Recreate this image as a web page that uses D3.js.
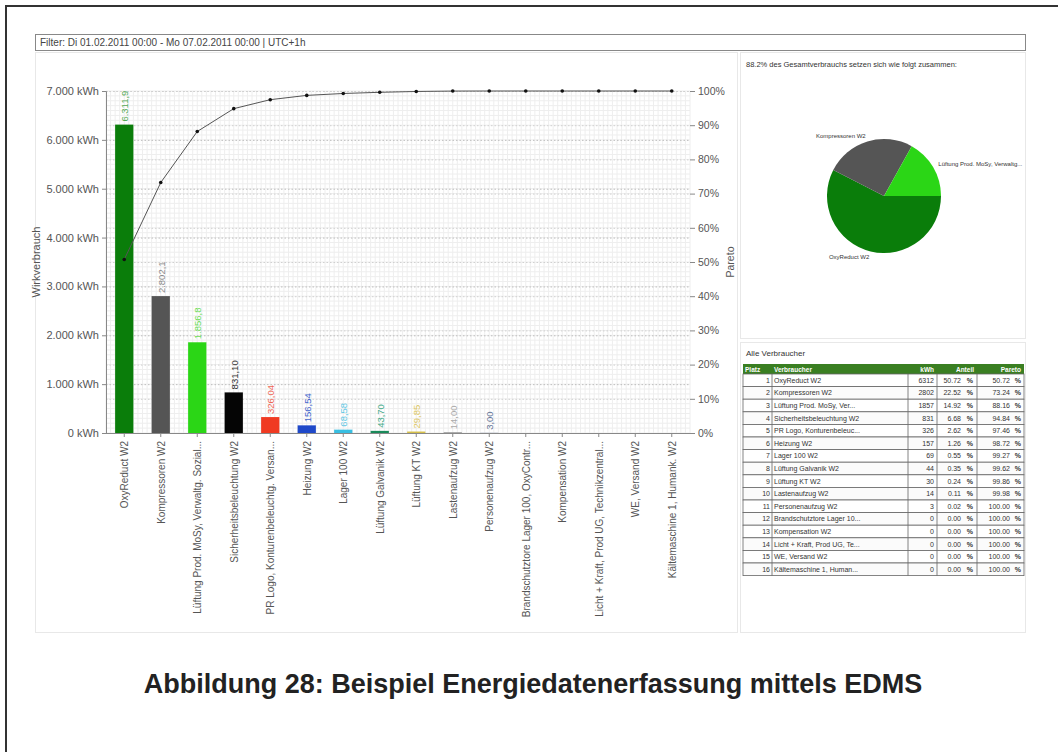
<!DOCTYPE html>
<html>
<head>
<meta charset="utf-8">
<script src="https://cdn.jsdelivr.net/npm/d3@7"></script>
<style>
  body { margin: 0; background: #fff; }
  svg { display: block; font-family: "Liberation Sans", Arial, sans-serif; }
</style>
</head>
<body>
<svg id="chart" width="1058" height="752"></svg>
<script>
// Verbraucher (x axis labels)
var names = ["OxyReduct W2", "Kompressoren W2", "Lüftung Prod. MoSy, Verwaltg. Sozial...",
  "Sicherheitsbeleuchtung W2", "PR Logo, Konturenbeleuchtg. Versan...", "Heizung W2",
  "Lager 100 W2", "Lüftung Galvanik W2", "Lüftung KT W2", "Lastenaufzug W2",
  "Personenaufzug W2", "Brandschutztore Lager 100, OxyContr...", "Kompensation W2",
  "Licht + Kraft, Prod UG, Technikzentral...", "WE, Versand W2", "Kältemaschine 1, Humank. W2"];

// Wirkverbrauch in kWh
var values = [6311.9, 2802.1, 1856.8, 831.10, 326.04, 156.54, 68.58, 43.70, 29.85, 14.00, 3.00, 0, 0, 0, 0, 0];

// Pareto (kumuliert, %)
var pareto = [50.72, 73.24, 88.16, 94.84, 97.46, 98.72, 99.27, 99.62, 99.86, 99.98, 100, 100, 100, 100, 100, 100];

// Anteil (%)
var shares = [50.72, 22.52, 14.92, 6.68, 2.62, 1.26, 0.55, 0.35, 0.24, 0.11, 0.02, 0, 0, 0, 0, 0];

// table columns
var tableNames = ["OxyReduct W2", "Kompressoren W2", "Lüftung Prod. MoSy, Ver...", "Sicherheitsbeleuchtung W2",
  "PR Logo, Konturenbeleuc...", "Heizung W2", "Lager 100 W2", "Lüftung Galvanik W2", "Lüftung KT W2",
  "Lastenaufzug W2", "Personenaufzug W2", "Brandschutztore Lager 10...", "Kompensation W2",
  "Licht + Kraft, Prod UG, Te...", "WE, Versand W2", "Kältemaschine 1, Human..."];
var tableKwh = [6312, 2802, 1857, 831, 326, 157, 69, 44, 30, 14, 3, 0, 0, 0, 0, 0];
var tableHeader = ["Platz", "Verbraucher", "kWh", "Anteil", "Pareto"];

// pie (top 3)
var pieNames = ["OxyReduct W2", "Kompressoren W2", "Lüftung Prod. MoSy, Verwaltg..."];
var pieValues = [6311.9, 2802.1, 1856.8];

// ticks
var kwhTicks = [0, 1000, 2000, 3000, 4000, 5000, 6000, 7000];
var pctTicks = [0, 10, 20, 30, 40, 50, 60, 70, 80, 90, 100];

// colours
var barColors = ["#0a7d0a", "#555555", "#2bd616", "#050505", "#f03a22", "#1f49c9",
  "#38bfe2", "#1a8a5a", "#d6c04a", "#8c8c8c", "#5c6a8c", "#777", "#777", "#777", "#777", "#777"];
var labelColors = ["#55aa55", "#8a8a8a", "#6cdc58", "#333333", "#ee6655", "#4466cc",
  "#66c8e4", "#44aa88", "#ddc766", "#aaaaaa", "#667799", "#999", "#999", "#999", "#999", "#999"];

var de = d3.formatLocale({ decimal: ",", thousands: ".", grouping: [3], currency: ["", " €"] });
var FONT = "Liberation Sans, Arial, sans-serif";

var svg = d3.select("#chart");

// outer frame
svg.append("rect").attr("x", 6).attr("y", 6).attr("width", 1070).attr("height", 770)
  .attr("fill", "none").attr("stroke", "#333").attr("stroke-width", 2);

// filter box
svg.append("rect").attr("x", 35.5).attr("y", 34.5).attr("width", 990).attr("height", 16)
  .attr("fill", "#fff").attr("stroke", "#888");
svg.append("text").attr("x", 40).attr("y", 46).attr("font-size", 10).attr("fill", "#444")
  .text("Filter: Di 01.02.2011 00:00 - Mo 07.02.2011 00:00 | UTC+1h");

// panels
svg.append("rect").attr("x", 35.5).attr("y", 52.5).attr("width", 702).attr("height", 580)
  .attr("fill", "#fff").attr("stroke", "#e8e8e8");
svg.append("rect").attr("x", 740.5).attr("y", 52.5).attr("width", 285).attr("height", 286)
  .attr("fill", "#fff").attr("stroke", "#e8e8e8");
svg.append("rect").attr("x", 740.5).attr("y", 342.5).attr("width", 285).attr("height", 290)
  .attr("fill", "#fff").attr("stroke", "#e8e8e8");

// ---------- Pareto chart ----------
var plotLeft = 106, plotRight = 690, plotTop = 91, plotBottom = 433;

var x = d3.scaleBand().domain(names).range([plotLeft, plotRight]).paddingInner(0.5).paddingOuter(0.25);
var y = d3.scaleLinear().domain([0, 7000]).range([plotBottom, plotTop]);
var yP = d3.scaleLinear().domain([0, 100]).range([plotBottom, plotTop]);

var grid = svg.append("g");
// fine grid
grid.selectAll("line.hmin").data(d3.range(0, 7001, 100)).enter().append("line")
  .attr("x1", plotLeft).attr("x2", plotRight)
  .attr("y1", function(d) { return y(d); }).attr("y2", function(d) { return y(d); })
  .attr("stroke", "#eeeeee").attr("stroke-width", 1);
var fine = d3.scaleLinear().domain([0, 128]).range([plotLeft, plotRight]);
grid.selectAll("line.vmin").data(d3.range(0, 129)).enter().append("line")
  .attr("x1", function(d) { return fine(d); }).attr("x2", function(d) { return fine(d); })
  .attr("y1", plotTop).attr("y2", plotBottom)
  .attr("stroke", "#eeeeee").attr("stroke-width", 1);
// dotted main grid
grid.selectAll("line.hk").data(kwhTicks.slice(1)).enter().append("line")
  .attr("x1", plotLeft).attr("x2", plotRight)
  .attr("y1", function(d) { return y(d) + 0.5; }).attr("y2", function(d) { return y(d) + 0.5; })
  .attr("stroke", "#bdbdbd").attr("stroke-dasharray", "1.5,2");
grid.selectAll("line.hp").data(pctTicks.slice(1)).enter().append("line")
  .attr("x1", plotLeft).attr("x2", plotRight)
  .attr("y1", function(d) { return yP(d) + 0.5; }).attr("y2", function(d) { return yP(d) + 0.5; })
  .attr("stroke", "#d0d0d0").attr("stroke-dasharray", "1.5,2");

// bars
svg.selectAll("rect.bar").data(values).enter().append("rect")
  .attr("class", "bar")
  .attr("x", function(d, i) { return x(names[i]); })
  .attr("width", x.bandwidth())
  .attr("y", function(d) { return y(d); })
  .attr("height", function(d) { return plotBottom - y(d); })
  .attr("fill", function(d, i) { return barColors[i]; });

// value labels
svg.selectAll("text.val").data(values.filter(function(d) { return d > 0; })).enter().append("text")
  .attr("transform", function(d, i) {
    return "translate(" + (x(names[i]) + x.bandwidth() / 2 + 4) + "," + (y(d) - 3) + ") rotate(-90)";
  })
  .attr("font-size", 9.5).attr("fill", function(d, i) { return labelColors[i]; })
  .text(function(d) { return d >= 1000 ? de.format(",.1f")(d) : de.format(",.2f")(d); });

// axes
var yAxis = d3.axisLeft(y).tickValues(kwhTicks).tickSize(4)
  .tickFormat(function(d) { return de.format(",")(d) + " kWh"; });
var gy = svg.append("g").attr("transform", "translate(" + plotLeft + ",0)").call(yAxis);
gy.select(".domain").attr("stroke", "#888");
gy.selectAll(".tick line").attr("stroke", "#888");
gy.selectAll(".tick text").attr("font-size", 11).attr("fill", "#555").attr("font-family", FONT);

var pAxis = d3.axisRight(yP).tickValues(pctTicks).tickSize(5)
  .tickFormat(function(d) { return d + "%"; });
var gp = svg.append("g").attr("transform", "translate(" + plotRight + ",0)").call(pAxis);
gp.select(".domain").remove();
gp.selectAll(".tick line").attr("stroke", "#888");
gp.selectAll(".tick text").attr("font-size", 10.5).attr("fill", "#555").attr("font-family", FONT);

var xAxis = d3.axisBottom(x).tickSize(4);
var gx = svg.append("g").attr("transform", "translate(0," + plotBottom + ")").call(xAxis);
gx.select(".domain").attr("stroke", "#888").attr("d", "M" + plotLeft + ",0.5H" + (plotRight + 4));
gx.selectAll(".tick line").attr("stroke", "#888");
gx.selectAll(".tick text")
  .attr("font-size", 10).attr("fill", "#555").attr("font-family", FONT)
  .attr("text-anchor", "end").attr("dy", null)
  .attr("transform", "translate(4,8) rotate(-90)").attr("x", 0).attr("y", 0);

// pareto line
var line = d3.line()
  .x(function(d, i) { return x(names[i]) + x.bandwidth() / 2; })
  .y(function(d) { return yP(d); });
svg.append("path").datum(pareto).attr("d", line)
  .attr("fill", "none").attr("stroke", "#555").attr("stroke-width", 1);
svg.selectAll("circle.pt").data(pareto).enter().append("circle")
  .attr("cx", function(d, i) { return x(names[i]) + x.bandwidth() / 2; })
  .attr("cy", function(d) { return yP(d); })
  .attr("r", 1.8).attr("fill", "#111");

// axis titles
svg.append("text").attr("transform", "translate(40," + ((plotTop + plotBottom) / 2) + ") rotate(-90)")
  .attr("text-anchor", "middle").attr("font-size", 11).attr("fill", "#555").text("Wirkverbrauch");
svg.append("text").attr("transform", "translate(734," + ((plotTop + plotBottom) / 2) + ") rotate(-90)")
  .attr("text-anchor", "middle").attr("font-size", 10.5).attr("fill", "#555").text("Pareto");

// ---------- Pie ----------
var topShare = d3.sum(shares.slice(0, 3));
svg.append("text").attr("x", 746).attr("y", 67).attr("font-size", 7.5).attr("fill", "#333")
  .text(d3.format(".1f")(topShare) + "% des Gesamtverbrauchs setzen sich wie folgt zusammen:");

var cx = 884, cy = 196, radius = 57;
var pie = d3.pie().sort(null).startAngle(Math.PI / 2).endAngle(Math.PI / 2 + 2 * Math.PI);
var arc = d3.arc().innerRadius(0).outerRadius(radius);
var labelArc = d3.arc().innerRadius(63).outerRadius(63);
var gPie = svg.append("g").attr("transform", "translate(" + cx + "," + cy + ")");
var arcs = pie(pieValues);
gPie.selectAll("path").data(arcs).enter().append("path")
  .attr("d", arc).attr("fill", function(d, i) { return barColors[i]; });
gPie.selectAll("text").data(arcs).enter().append("text")
  .attr("x", function(d) { return labelArc.centroid(d)[0]; })
  .attr("y", function(d) { return labelArc.centroid(d)[1]; })
  .attr("text-anchor", function(d) { return labelArc.centroid(d)[0] < 0 ? "end" : "start"; })
  .attr("dy", "0.35em").attr("font-size", 6).attr("fill", "#333")
  .text(function(d, i) { return pieNames[i]; });

// ---------- Table ----------
svg.append("text").attr("x", 746).attr("y", 356).attr("font-size", 8).attr("fill", "#333").text("Alle Verbraucher");

var colX = [743, 772, 908, 937, 977, 1024];
var headTop = 364, headH = 10;
var rowY = d3.scaleBand().domain(d3.range(16)).range([headTop + headH, headTop + headH + 16 * 12.6]);
var tbl = svg.append("g").attr("font-size", 7).attr("fill", "#333");

tbl.append("rect").attr("x", colX[0]).attr("y", headTop).attr("width", colX[5] - colX[0]).attr("height", headH)
  .attr("fill", "#3a7f22");
tbl.selectAll("text.head").data(tableHeader).enter().append("text")
  .attr("x", function(d, i) { return i < 2 ? colX[i] + 2 : colX[i + 1] - 3; })
  .attr("y", headTop + 7.5)
  .attr("text-anchor", function(d, i) { return i < 2 ? "start" : "end"; })
  .attr("font-weight", "bold").attr("fill", "#fff").attr("font-size", 6.5)
  .text(function(d) { return d; });

var rows = tbl.selectAll("g.row").data(tableNames).enter().append("g")
  .attr("transform", function(d, i) { return "translate(0," + rowY(i) + ")"; });
rows.append("rect").attr("x", colX[0]).attr("width", colX[5] - colX[0]).attr("height", rowY.bandwidth())
  .attr("fill", function(d, i) { return i % 2 ? "#fbfbfb" : "#fff"; }).attr("stroke", "#666").attr("stroke-width", 0.8);
colX.slice(1, 5).forEach(function(cxl) {
  rows.append("line").attr("x1", cxl).attr("x2", cxl).attr("y1", 0).attr("y2", rowY.bandwidth())
    .attr("stroke", "#666").attr("stroke-width", 0.8);
});
var ty = rowY.bandwidth() / 2 + 2.5;
rows.append("text").attr("x", colX[1] - 2).attr("y", ty).attr("text-anchor", "end")
  .text(function(d, i) { return i + 1; });
rows.append("text").attr("x", colX[1] + 2).attr("y", ty)
  .text(function(d) { return d; });
rows.append("text").attr("x", colX[3] - 3).attr("y", ty).attr("text-anchor", "end")
  .text(function(d, i) { return tableKwh[i]; });
rows.append("text").attr("x", colX[4] - 16).attr("y", ty).attr("text-anchor", "end")
  .text(function(d, i) { return d3.format(".2f")(shares[i]); });
rows.append("text").attr("x", colX[4] - 4).attr("y", ty).attr("text-anchor", "end").attr("font-weight", "bold")
  .text("%");
rows.append("text").attr("x", colX[5] - 14).attr("y", ty).attr("text-anchor", "end")
  .text(function(d, i) { return d3.format(".2f")(pareto[i]); });
rows.append("text").attr("x", colX[5] - 3).attr("y", ty).attr("text-anchor", "end").attr("font-weight", "bold")
  .text("%");

// ---------- Caption ----------
svg.append("text").attr("x", 533).attr("y", 693).attr("text-anchor", "middle")
  .attr("font-size", 27).attr("font-weight", "bold").attr("fill", "#222")
  .text("Abbildung 28: Beispiel Energiedatenerfassung mittels EDMS");
</script>
</body>
</html>
